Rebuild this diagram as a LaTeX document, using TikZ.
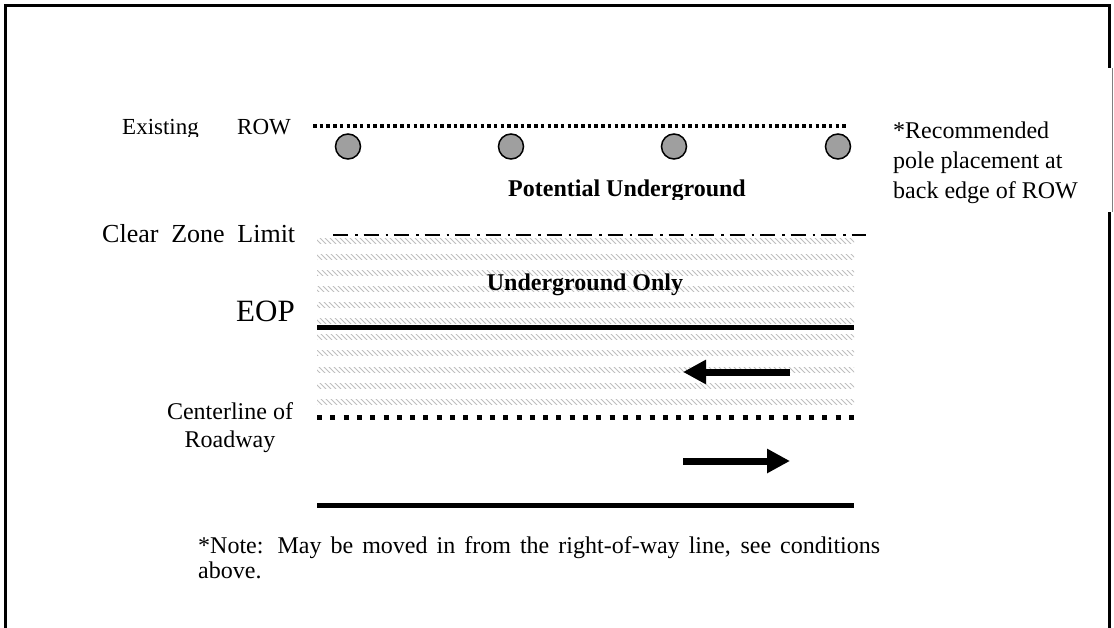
\documentclass[tikz,border=0pt]{standalone}
\usepackage{fontspec}
\setmainfont{Liberation Serif}
\usetikzlibrary{arrows.meta,patterns}

\pgfdeclarepatternformonly{roadhatch}{\pgfqpoint{-1pt}{-1pt}}{\pgfqpoint{6pt}{6pt}}{\pgfqpoint{5pt}{5pt}}{%
  \pgfsetlinewidth{0.9pt}%
  \pgfpathmoveto{\pgfqpoint{0pt}{5pt}}%
  \pgfpathlineto{\pgfqpoint{5pt}{0pt}}%
  \pgfusepath{stroke}}

\tikzset{
  lbl/.style={inner sep=0pt,font=\fontsize{24}{28}\selectfont},
  boldlbl/.style={inner sep=0pt,font=\fontsize{24}{28}\selectfont\bfseries},
  roadline/.style={line width=5pt},
  hatchband/.style={pattern=roadhatch,pattern color=gray!50},
  pole/.style={draw=black,line width=1.5pt,fill=gray!75},
  lanearrow/.style={line width=7pt,-{Triangle[length=23pt,width=23pt]}}
}

\begin{document}
\begin{tikzpicture}[x=1pt,y=-1pt]
\useasboundingbox (0,0) rectangle (1114,628);
% frame, open at the bottom
\draw[line width=3pt] (5.5,628) -- (5.5,6) -- (1109,6) -- (1109,628);
% text box on the right
\fill[white] (880,68) rectangle (1114,212);
\draw[gray,line width=1pt] (1112.5,68) -- (1112.5,212);

% existing right-of-way
\begin{scope}
  \clip (100,100) rectangle (300,136.5);
  \node[lbl,font=\fontsize{23}{27}\selectfont,anchor=base west] (existing) at (122,135) {Existing};
  \node[lbl,font=\fontsize{23}{27}\selectfont,anchor=base west] (row) at (237,135) {ROW};
\end{scope}
\draw[line width=3.5pt,dash pattern=on 3.5pt off 3.2pt] (313,126) -- (848,126);
\foreach \x in {348,511,674,838}
  \draw[pole] (\x,146.5) circle (12.5);
\begin{scope}
  \clip (400,170) rectangle (850,199.5);
  \node[boldlbl,anchor=base] (potential) at (627,197) {Potential Underground};
\end{scope}
\node[lbl,anchor=base west] (rec1) at (893,139) {*Recommended};
\node[lbl,anchor=base west] (rec2) at (893,169) {pole placement at};
\node[lbl,anchor=base west] (rec3) at (893,199) {back edge of ROW};

% clear zone, hatched
\foreach \y in {239,255,...,399}
  \fill[hatchband] (317,\y) rectangle (854,\y+5);
\node[lbl,font=\fontsize{26}{30}\selectfont,anchor=base west] (clearzone) at (102,243) {\makebox[193pt][s]{Clear Zone Limit}};
\draw[line width=2.5pt,dash pattern=on 15pt off 7pt on 2.5pt off 6pt] (333,235) -- (866,235);
\node[boldlbl,anchor=base] (ugonly) at (585,291) {Underground Only};

% edge of pavement
\node[lbl,font=\fontsize{31}{36}\selectfont,anchor=base west] (eop) at (236,322) {EOP};
\draw[roadline] (317,328) -- (854,328);
\draw[lanearrow] (790,372) -- (683,372);

% centerline
\draw[line width=5pt,dash pattern=on 5pt off 8.3pt] (317,417) -- (854,417);
\node[lbl,anchor=base] (center1) at (230,419) {Centerline of};
\node[lbl,anchor=base] (center2) at (230,447) {Roadway};
\draw[lanearrow] (683,461) -- (790,461);
\draw[roadline] (317,505) -- (854,505);

% note
\node[lbl,anchor=base west] (note1) at (198,553) {\makebox[682pt][s]{*Note: May be moved in from the right-of-way line, see conditions}};
\node[lbl,anchor=base west] (note2) at (198,578) {above.};
\end{tikzpicture}
\end{document}
